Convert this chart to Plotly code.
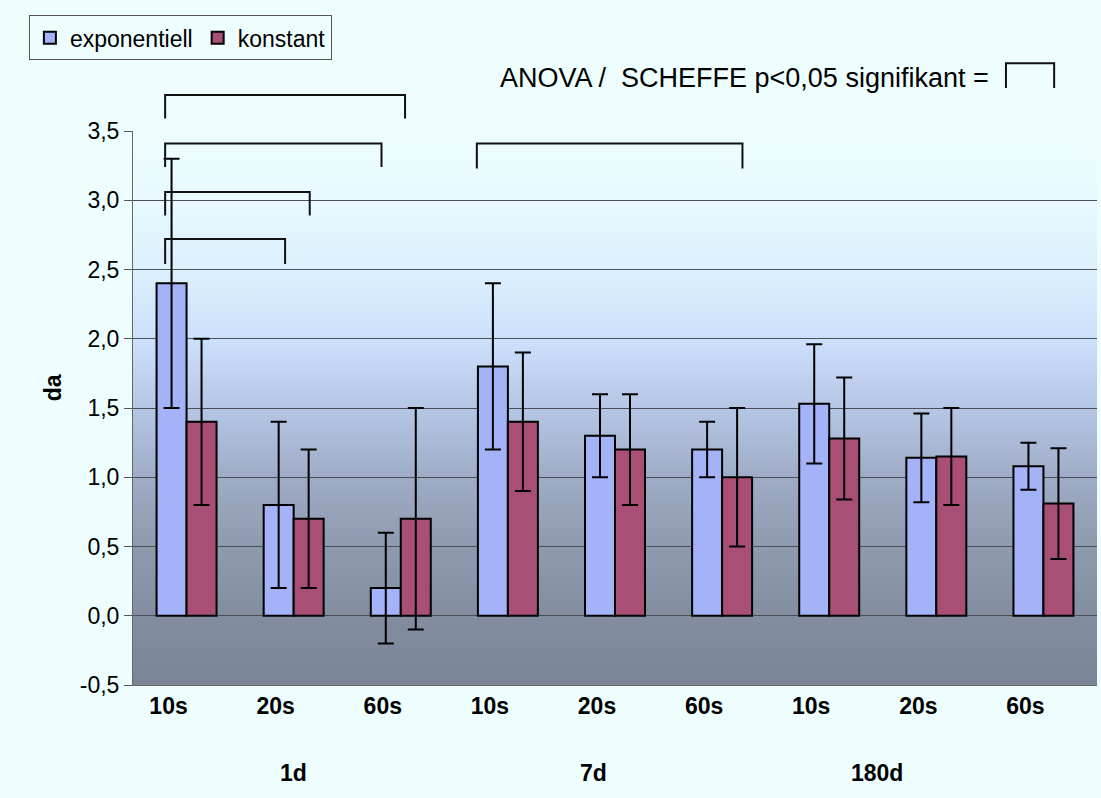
import base64
import plotly.graph_objects as go

# ---- data -------------------------------------------------------------
intervals = ["10s", "20s", "60s", "10s", "20s", "60s", "10s", "20s", "60s"]
groups = ["1d", "7d", "180d"]
series_names = ["exponentiell", "konstant"]

expo_mean = [2.4, 0.8, 0.2, 1.8, 1.3, 1.2, 1.53, 1.14, 1.08]
expo_sd = [0.9, 0.6, 0.4, 0.6, 0.3, 0.2, 0.43, 0.32, 0.17]
konst_mean = [1.4, 0.7, 0.7, 1.4, 1.2, 1.0, 1.28, 1.15, 0.81]
konst_sd = [0.6, 0.5, 0.8, 0.5, 0.4, 0.5, 0.44, 0.35, 0.40]

y_ticks = [-0.5, 0.0, 0.5, 1.0, 1.5, 2.0, 2.5, 3.0, 3.5]
y_ticktext = [("%.1f" % v).replace(".", ",") for v in y_ticks]

# significance brackets: (x_left, x_right, y_top, y_leg_end) in data units
brackets = [
    (-0.20, 2.04, 3.76, 3.59),
    (-0.20, 1.82, 3.41, 3.24),
    (-0.20, 1.15, 3.06, 2.89),
    (-0.20, 0.92, 2.72, 2.54),
    (2.71, 5.19, 3.41, 3.23),
]
legend_bracket = (7.65, 8.10, 3.99, 3.81)

# ---- styling ------------------------------------------------------------
W, H = 1101, 798
M_L, M_R, M_T, M_B = 133, 4, 131, 113
X_RANGE = [-0.5, 8.5]
Y_RANGE = [-0.5, 3.5]
PAGE_BG = "#EEFEFF"
BLUE = "#A4B3F8"
RED = "#A94F76"
FONT = "Liberation Sans, Arial, sans-serif"

x = list(range(len(intervals)))

fig = go.Figure()
fig.add_trace(go.Bar(
    x=x, y=expo_mean, name=series_names[0],
    marker=dict(color=BLUE, line=dict(color="black", width=2)),
    error_y=dict(type="data", array=expo_sd, visible=True,
                 color="black", thickness=2, width=8),
))
fig.add_trace(go.Bar(
    x=x, y=konst_mean, name=series_names[1],
    marker=dict(color=RED, line=dict(color="black", width=2)),
    error_y=dict(type="data", array=konst_sd, visible=True,
                 color="black", thickness=2, width=8),
))


def to_paper_x(v):
    return (v - X_RANGE[0]) / (X_RANGE[1] - X_RANGE[0])


def to_paper_y(v):
    return (v - Y_RANGE[0]) / (Y_RANGE[1] - Y_RANGE[0])


# vertical colour gradient of the plot area (stops in axis units)
grad_stops = [
    (3.5, "#EEFEFF"),
    (3.0, "#E8FAFF"),
    (2.5, "#DCF0FD"),
    (2.0, "#CCE0FC"),
    (1.5, "#B6C6E6"),
    (1.0, "#9EACC6"),
    (0.5, "#8E9AAE"),
    (0.0, "#828EA0"),
    (-0.5, "#7A8698"),
]
stops_svg = "".join(
    '<stop offset="%.4f" stop-color="%s"/>' % ((Y_RANGE[1] - v) / (Y_RANGE[1] - Y_RANGE[0]), c)
    for v, c in grad_stops)
svg = ('<svg xmlns="http://www.w3.org/2000/svg" width="100" height="400" '
       'viewBox="0 0 100 400" preserveAspectRatio="none">'
       '<defs><linearGradient id="g" x1="0" y1="0" x2="0" y2="1">%s</linearGradient></defs>'
       '<rect x="0" y="0" width="100" height="400" fill="url(#g)"/></svg>') % stops_svg
bg_uri = "data:image/svg+xml;base64," + base64.b64encode(svg.encode()).decode()


def bracket_shape(b):
    xl, xr, yt, yb = b
    path = "M {:.5f},{:.5f} L {:.5f},{:.5f} L {:.5f},{:.5f} L {:.5f},{:.5f}".format(
        to_paper_x(xl), to_paper_y(yb), to_paper_x(xl), to_paper_y(yt),
        to_paper_x(xr), to_paper_y(yt), to_paper_x(xr), to_paper_y(yb))
    return dict(type="path", path=path, xref="paper", yref="paper",
                line=dict(color="#111111", width=2), layer="above")


shapes = [bracket_shape(b) for b in brackets] + [bracket_shape(legend_bracket)]

annotations = [
    dict(text="ANOVA /  SCHEFFE p<0,05 signifikant =", x=7.51, y=to_paper_y(3.88),
         xref="x", yref="paper", xanchor="right", yanchor="middle",
         showarrow=False, font=dict(family=FONT, size=27, color="black")),
    dict(text="<b>da</b>", x=-0.083, y=to_paper_y(1.65), xref="paper", yref="paper",
         textangle=-90, showarrow=False, xanchor="center", yanchor="middle",
         font=dict(family=FONT, size=23, color="black")),
]
group_pos = [1.0, 3.8, 6.45]
for g, gx in zip(groups, group_pos):
    annotations.append(dict(
        text="<b>%s</b>" % g, x=gx, y=-0.159, xref="x", yref="paper",
        showarrow=False, xanchor="center", yanchor="middle",
        font=dict(family=FONT, size=23, color="black")))

fig.update_layout(
    width=W, height=H,
    margin=dict(l=M_L, r=M_R, t=M_T, b=M_B, pad=0),
    paper_bgcolor=PAGE_BG, plot_bgcolor="rgba(0,0,0,0)",
    barmode="group", bargap=0.44, bargroupgap=0,
    font=dict(family=FONT, size=22, color="black"),
    showlegend=True,
    legend=dict(
        orientation="h", x=-0.108, y=1.209, xanchor="left", yanchor="top",
        bgcolor=PAGE_BG, bordercolor="#555555", borderwidth=1,
        font=dict(family=FONT, size=23, color="black"),
        itemwidth=30, tracegroupgap=0,
    ),
    images=[dict(source=bg_uri, xref="paper", yref="paper", x=0, y=1,
                 sizex=1, sizey=1, sizing="stretch", layer="below",
                 xanchor="left", yanchor="top")],
    shapes=shapes,
    annotations=annotations,
)

fig.update_xaxes(
    range=X_RANGE, tickmode="array", tickvals=x,
    ticktext=["<b>%s</b>" % t for t in intervals],
    tickfont=dict(family=FONT, size=23, color="black"),
    ticklabelshift=-18, ticklabelstandoff=0,
    ticks="", showgrid=False, zeroline=False,
    showline=True, linecolor="#666666", linewidth=1,
)
fig.update_yaxes(
    range=Y_RANGE, tickmode="array", tickvals=y_ticks, ticktext=y_ticktext,
    tickfont=dict(family=FONT, size=23, color="black"),
    ticks="outside", ticklen=8, tickcolor="#555555", tickwidth=1,
    showgrid=True, gridcolor="#4A4F58", gridwidth=1, zeroline=False,
    showline=True, linecolor="#666666", linewidth=1,
)

fig.write_html("out.html")
